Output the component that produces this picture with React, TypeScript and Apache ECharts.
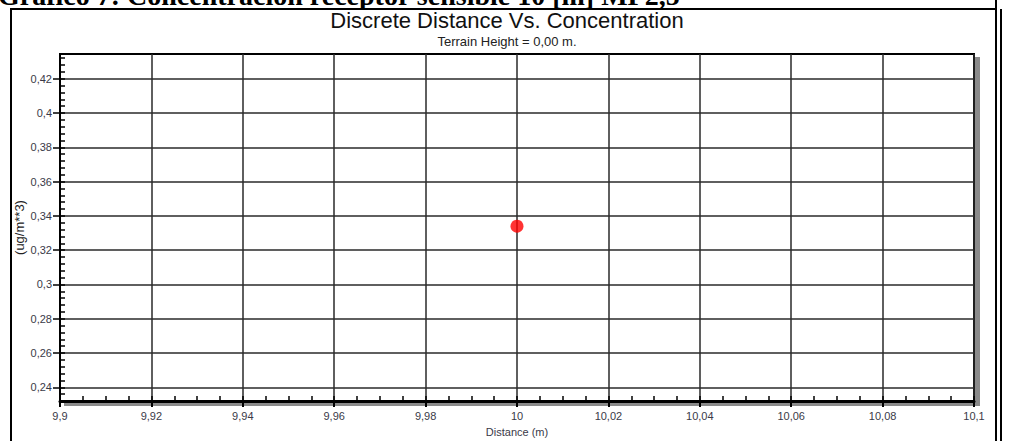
import React, { useEffect, useRef } from 'react';
import * as echarts from 'echarts';

const pageHeading = 'Gráfico 7: Concentración receptor sensible 10 [m] MP2,5';
const chartTitle = 'Discrete Distance Vs. Concentration';
const chartSubtitle = 'Terrain Height = 0,00 m.';
const xAxisTitle = 'Distance (m)';
const yAxisTitle = '(ug/m**3)';

const distances = [10];
const concentrations = [0.334];

const xMin = 9.9;
const xMax = 10.1;
const xMajorStep = 0.02;
const xMinorStep = 0.005;

const yMin = 0.232;
const yMax = 0.4344;
const yMajorTicks = [0.24, 0.26, 0.28, 0.3, 0.32, 0.34, 0.36, 0.38, 0.4, 0.42];
const yMinorStep = 0.004;

const fmt = (v: number) => String(+Number(v).toFixed(3)).replace('.', ',');

export default function App() {
  const ref = useRef<HTMLDivElement>(null);
  useEffect(() => {
    if (!ref.current) return;
    const chart = echarts.init(ref.current, undefined, { renderer: 'svg' });
    const labelColor = '#3a3a48';
    const gridColor = '#2a2a2a';
    chart.setOption({
      animation: false,
      backgroundColor: '#ffffff',
      textStyle: { fontFamily: 'Liberation Sans, Arial, sans-serif' },
      grid: {
        left: 60,
        right: 40,
        top: 54,
        bottom: 40,
        outerBoundsMode: 'none',
        containLabel: false,
        show: true,
        backgroundColor: '#ffffff',
        borderColor: '#000000',
        borderWidth: 2,
        shadowColor: '#8a8a8a',
        shadowOffsetX: 5,
        shadowOffsetY: 4,
        shadowBlur: 0,
      },
      xAxis: [
        {
          type: 'value',
          min: xMin,
          max: xMax,
          interval: xMajorStep,
          name: xAxisTitle,
          nameLocation: 'middle',
          nameGap: 25,
          nameMoveOverlap: false,
          nameTextStyle: { fontSize: 11, color: labelColor },
          axisLine: { show: true, onZero: false, lineStyle: { color: '#000', width: 3 } },
          axisTick: { show: true, inside: false, length: 6, lineStyle: { color: '#000', width: 2 } },
          axisLabel: { fontSize: 11, color: labelColor, margin: 9, formatter: fmt },
          splitLine: { show: true, lineStyle: { color: gridColor, width: 1.5 } },
        },
        {
          type: 'value',
          position: 'bottom',
          offset: 0,
          min: xMin,
          max: xMax,
          interval: xMinorStep,
          axisLine: { show: false },
          axisTick: { show: true, inside: true, length: 5, lineStyle: { color: '#000', width: 1.5 } },
          axisLabel: { show: false },
          splitLine: { show: false },
        },
      ],
      yAxis: [
        {
          type: 'value',
          position: 'left',
          min: yMin,
          max: yMax,
          name: yAxisTitle,
          nameLocation: 'middle',
          nameGap: 34,
          nameMoveOverlap: false,
          nameTextStyle: { fontSize: 13, color: '#222' },
          axisLine: { show: true, onZero: false, lineStyle: { color: '#000', width: 2 } },
          axisTick: {
            show: true,
            inside: false,
            length: 7,
            customValues: yMajorTicks,
            lineStyle: { color: '#000', width: 1.5 },
          },
          axisLabel: {
            fontSize: 11,
            color: labelColor,
            margin: 8,
            customValues: yMajorTicks,
            formatter: fmt,
          },
          splitLine: { show: true, lineStyle: { color: gridColor, width: 1.5 } },
        },
        {
          type: 'value',
          position: 'left',
          offset: 0,
          min: yMin,
          max: yMax,
          interval: yMinorStep,
          axisLine: { show: false },
          axisTick: { show: true, inside: true, length: 5, lineStyle: { color: '#000', width: 1.5 } },
          axisLabel: { show: false },
          splitLine: { show: false },
        },
      ],
      series: [
        {
          type: 'scatter',
          xAxisIndex: 0,
          yAxisIndex: 0,
          data: distances.map((d, i) => [d, concentrations[i]]),
          symbol: 'circle',
          symbolSize: 13,
          itemStyle: { color: '#ff0000' },
          z: 10,
        },
      ],
      graphic: [
        {
          type: 'text',
          x: -2,
          y: 9,
          style: {
            text: pageHeading,
            font: 'bold 28px "Liberation Serif", "DejaVu Serif", serif',
            fill: '#000',
            verticalAlign: 'bottom',
          },
        },
        {
          type: 'rect',
          shape: { x: 0, y: 10, width: 1014, height: 10 },
          style: { fill: '#fff' },
        },
        {
          type: 'text',
          x: 507,
          y: 9,
          style: {
            text: chartTitle,
            font: '22px "Liberation Sans", Arial, sans-serif',
            fill: '#111',
            align: 'center',
          },
        },
        {
          type: 'text',
          x: 507,
          y: 35,
          style: {
            text: chartSubtitle,
            font: '13px "Liberation Sans", Arial, sans-serif',
            fill: '#222',
            align: 'center',
          },
        },
        { type: 'line', shape: { x1: 10, y1: 9, x2: 997, y2: 9 }, style: { stroke: '#000', lineWidth: 2 } },
        { type: 'line', shape: { x1: 11, y1: 9, x2: 11, y2: 441 }, style: { stroke: '#000', lineWidth: 2 } },
        { type: 'line', shape: { x1: 996, y1: 0, x2: 996, y2: 441 }, style: { stroke: '#000', lineWidth: 2 } },
        { type: 'line', shape: { x1: 1001, y1: 9, x2: 1001, y2: 441 }, style: { stroke: '#000', lineWidth: 2 } },
      ],
    });
    return () => chart.dispose();
  }, []);
  return (
    <div
      ref={ref}
      style={{ position: 'fixed', left: 0, top: 0, width: 1014, height: 441, background: '#fff' }}
    />
  );
}
